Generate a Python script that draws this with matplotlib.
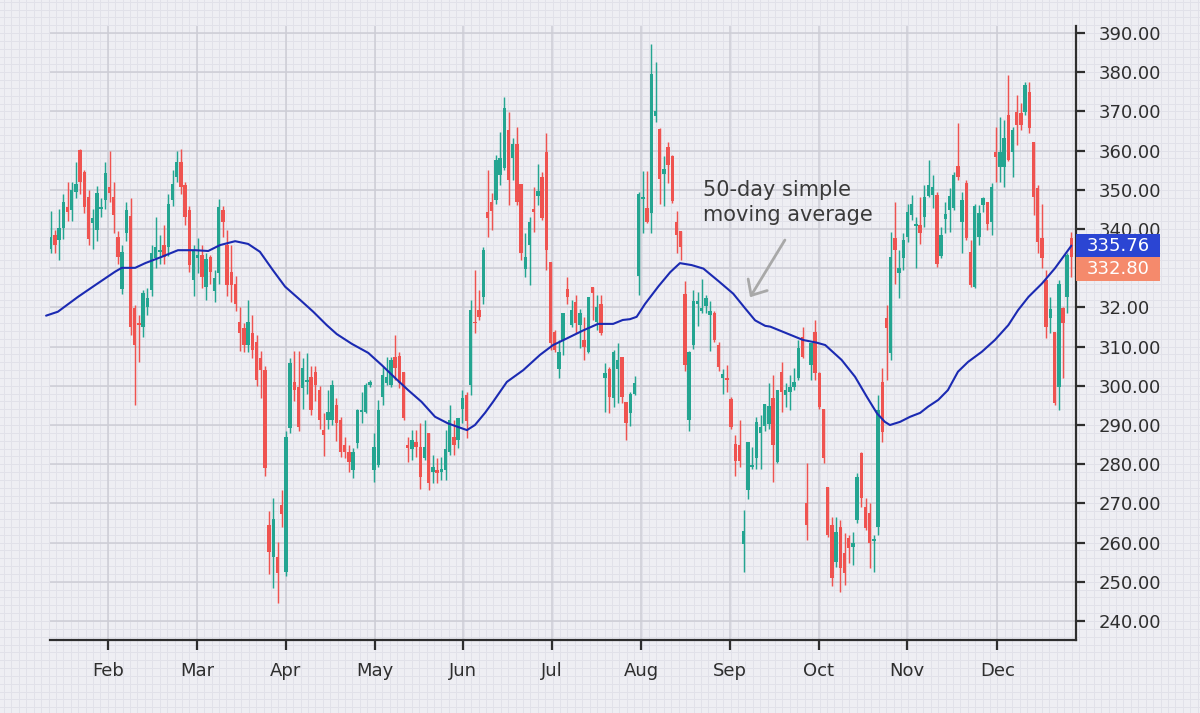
import matplotlib
matplotlib.use("Agg")
import matplotlib.pyplot as plt
import numpy as np
from matplotlib.patches import Rectangle
from matplotlib.ticker import MultipleLocator, FixedLocator

plt.rcParams['font.family'] = ['DejaVu Sans']

# ---------------- data ----------------
opens = [
    334.9, 338.5, 337.2, 340.2, 345.7, 344.8, 349.5, 360.1, 354.6, 348.2,
    341.6, 339.7, 345.0, 347.4, 350.8, 348.2, 338.0, 324.8, 338.9, 343.3,
    319.8, 316.1, 315.1, 320.2, 324.4, 332.5, 334.1, 335.9, 335.5, 347.4,
    353.3, 357.2, 351.2, 344.8, 327.0, 332.5, 333.5, 325.3, 332.8, 324.3,
    328.7, 344.8, 335.9, 329.1, 326.1, 316.4, 314.7, 310.4, 313.4, 311.3,
    307.0, 304.0, 264.5, 256.4, 256.2, 269.6, 252.6, 289.2, 301.1, 299.8,
    299.4, 301.1, 302.3, 303.6, 298.9, 288.7, 291.3, 291.3, 295.1, 291.3,
    284.9, 283.2, 278.5, 285.3, 293.4, 293.4, 300.2, 278.5, 279.8, 297.2,
    300.6, 300.2, 307.4, 307.6, 303.4, 284.9, 283.8, 285.7, 284.5, 281.5,
    287.9, 278.1, 278.5, 278.1, 278.5, 283.2, 287.0, 286.2, 294.2, 297.6,
    300.2, 316.4, 319.3, 322.7, 344.4, 346.9, 347.4, 353.8, 355.5, 365.2,
    358.0, 361.8, 351.6, 329.9, 335.9, 345.0, 348.4, 353.3, 359.7, 331.7,
    313.8, 304.4, 311.7, 324.6, 315.5, 321.5, 315.5, 311.7, 308.7, 325.3,
    316.3, 321.0, 301.9, 304.4, 296.8, 304.4, 307.4, 295.9, 293.0, 298.0,
    328.1, 347.7, 345.4, 344.0, 368.9, 365.4, 354.0, 360.9, 358.6, 341.7,
    339.5, 323.5, 291.2, 310.3, 320.8, 319.0, 320.3, 318.1, 318.5, 310.3,
    302.1, 302.1, 296.6, 285.2, 284.8, 259.7, 273.4, 279.3, 281.6, 288.0,
    289.8, 290.3, 296.8, 280.6, 303.4, 297.6, 298.5, 299.8, 301.9, 312.5,
    270.2, 305.3, 313.8, 303.2, 294.0, 274.3, 264.5, 255.1, 264.1, 257.3,
    261.1, 259.0, 265.8, 282.8, 269.2, 267.5, 260.5, 264.1, 301.1, 317.2,
    308.3, 337.6, 328.7, 332.5, 338.0, 343.6, 340.8, 341.0, 343.1, 348.4,
    348.7, 348.7, 333.0, 342.5, 344.8, 345.3, 356.1, 341.9, 351.7, 334.2,
    325.3, 338.0, 346.1, 347.0, 341.9, 359.7, 355.9, 355.9, 369.1, 359.7,
    369.9, 369.5, 369.9, 375.0, 362.3, 350.4, 337.6, 327.0, 317.2, 313.8,
    299.8, 319.8, 322.7, 337.6,
]
highs = [
    344.7, 339.7, 345.0, 349.0, 352.0, 352.0, 357.0, 360.3, 355.0, 350.0,
    345.0, 351.0, 348.0, 357.0, 360.0, 352.0, 339.5, 336.0, 347.0, 348.0,
    320.5, 318.0, 324.5, 325.0, 336.0, 343.0, 338.5, 341.0, 349.0, 355.0,
    360.0, 360.3, 352.0, 346.0, 336.0, 337.6, 336.0, 334.0, 333.5, 329.6,
    347.6, 346.0, 339.7, 336.0, 328.0, 320.0, 316.0, 322.0, 318.0, 313.0,
    309.0, 305.0, 268.0, 271.5, 260.2, 273.5, 288.5, 307.0, 309.0, 309.0,
    307.0, 308.3, 305.0, 305.0, 300.0, 293.0, 299.0, 301.5, 297.0, 292.1,
    287.0, 284.9, 284.1, 294.2, 298.5, 300.6, 301.5, 287.9, 296.4, 304.9,
    307.4, 307.4, 312.9, 308.7, 303.6, 287.0, 288.7, 288.7, 290.4, 291.3,
    287.9, 282.3, 281.5, 281.9, 288.7, 295.1, 291.3, 291.7, 298.9, 298.5,
    321.9, 329.5, 324.4, 335.5, 355.0, 349.1, 358.9, 364.8, 373.7, 369.9,
    363.1, 366.1, 351.6, 338.9, 343.1, 350.8, 356.7, 354.6, 364.4, 331.7,
    314.2, 311.7, 318.5, 327.8, 321.9, 323.2, 319.5, 317.6, 322.7, 325.3,
    323.2, 323.2, 305.7, 304.9, 309.1, 310.8, 307.4, 295.9, 298.5, 302.6,
    349.5, 354.9, 354.9, 387.3, 382.7, 365.9, 358.6, 362.2, 359.0, 344.5,
    339.5, 326.7, 308.9, 324.4, 324.0, 327.2, 323.1, 321.7, 319.0, 311.2,
    304.4, 305.3, 297.1, 287.5, 291.2, 268.4, 285.7, 284.3, 292.1, 292.5,
    295.3, 300.7, 302.8, 298.9, 306.1, 300.6, 302.8, 304.5, 311.7, 315.1,
    280.2, 310.8, 316.8, 303.6, 294.0, 274.3, 266.6, 266.6, 265.8, 262.4,
    261.9, 262.8, 277.7, 283.2, 271.3, 270.0, 261.9, 297.7, 304.5, 320.6,
    339.3, 347.0, 334.6, 338.9, 346.5, 348.7, 343.1, 348.3, 351.2, 357.6,
    353.8, 349.5, 340.6, 347.0, 350.4, 354.6, 367.0, 349.5, 352.5, 337.2,
    346.5, 346.1, 348.3, 347.0, 351.7, 366.1, 368.7, 367.8, 379.3, 366.1,
    374.2, 372.1, 377.6, 377.6, 362.3, 351.2, 346.5, 329.5, 322.7, 313.8,
    327.0, 320.2, 333.8, 339.3,
]
lows = [
    333.8, 333.8, 332.0, 337.5, 342.0, 342.0, 348.0, 349.0, 344.0, 336.0,
    335.0, 337.0, 343.0, 345.0, 347.0, 339.0, 331.0, 323.5, 337.0, 313.0,
    295.0, 306.0, 312.5, 318.0, 323.0, 330.0, 331.0, 331.0, 333.0, 346.0,
    352.0, 349.0, 341.0, 329.0, 323.0, 328.7, 325.0, 322.0, 326.0, 321.5,
    326.0, 338.0, 323.0, 321.5, 319.0, 309.0, 308.5, 308.5, 307.0, 300.0,
    297.0, 277.0, 252.0, 248.5, 244.5, 264.0, 251.5, 288.0, 296.0, 288.5,
    294.0, 298.0, 292.5, 296.0, 289.0, 282.0, 289.0, 290.0, 286.0, 281.9,
    281.5, 278.1, 276.4, 284.1, 290.4, 293.0, 299.8, 275.5, 279.4, 295.1,
    300.2, 299.8, 301.5, 299.4, 291.3, 280.6, 281.1, 281.9, 273.8, 281.1,
    273.4, 275.1, 275.1, 276.0, 276.0, 282.3, 282.3, 284.1, 290.4, 286.6,
    297.6, 313.4, 316.8, 321.0, 338.0, 339.7, 346.5, 351.2, 355.0, 346.1,
    352.5, 346.1, 332.1, 327.8, 325.7, 339.3, 346.1, 342.3, 329.5, 309.1,
    308.7, 301.9, 307.8, 321.0, 315.1, 313.4, 309.6, 306.6, 308.3, 316.8,
    314.2, 312.9, 293.4, 293.0, 294.7, 295.5, 295.5, 286.2, 289.8, 297.6,
    323.1, 339.0, 341.6, 339.0, 367.2, 346.3, 345.8, 351.8, 346.7, 334.0,
    332.2, 303.9, 288.5, 309.4, 315.3, 318.5, 318.5, 308.9, 311.2, 303.9,
    298.0, 298.5, 288.9, 277.1, 279.3, 252.5, 271.1, 278.9, 278.9, 278.9,
    288.5, 288.9, 275.5, 280.2, 293.4, 294.7, 293.8, 298.9, 301.5, 307.0,
    260.7, 301.5, 301.5, 294.2, 280.2, 261.5, 248.8, 253.9, 247.5, 249.2,
    254.7, 254.3, 264.9, 269.2, 263.2, 253.4, 252.6, 261.9, 285.7, 301.5,
    306.6, 326.1, 322.3, 329.5, 336.8, 342.3, 330.0, 336.3, 340.6, 348.3,
    345.3, 330.4, 332.5, 338.9, 339.3, 344.8, 352.5, 333.8, 337.2, 325.3,
    324.9, 335.9, 344.4, 339.7, 338.5, 352.1, 352.1, 350.8, 357.4, 353.4,
    361.4, 365.3, 369.1, 364.4, 343.6, 333.8, 330.0, 312.1, 313.4, 295.1,
    293.8, 301.9, 318.5, 327.8,
]
closes = [
    338.0, 335.9, 340.2, 347.0, 344.4, 349.9, 351.6, 352.1, 345.7, 337.4,
    342.7, 349.1, 345.7, 354.2, 349.1, 343.6, 332.9, 334.2, 344.8, 315.1,
    310.4, 315.4, 323.6, 322.3, 333.8, 335.5, 334.6, 332.9, 346.5, 351.6,
    357.2, 350.8, 343.1, 330.8, 334.6, 333.5, 327.8, 332.3, 329.1, 327.4,
    345.7, 341.9, 325.7, 325.7, 321.0, 313.4, 310.4, 316.4, 309.1, 301.5,
    304.0, 279.0, 257.7, 265.9, 252.3, 267.3, 287.0, 305.7, 298.9, 289.6,
    304.5, 301.5, 293.8, 300.2, 291.3, 287.5, 293.4, 300.2, 290.5, 283.2,
    283.2, 280.6, 283.2, 293.8, 293.8, 300.2, 301.1, 284.5, 293.8, 302.8,
    302.3, 306.6, 304.5, 300.6, 291.7, 284.1, 286.3, 284.5, 276.8, 284.5,
    275.1, 279.4, 277.8, 278.9, 283.8, 291.3, 284.9, 291.7, 296.8, 290.9,
    319.3, 315.9, 317.6, 334.6, 342.7, 344.7, 357.6, 358.0, 370.8, 352.5,
    361.8, 347.0, 333.8, 332.9, 341.9, 344.4, 349.8, 342.7, 334.6, 310.8,
    309.1, 308.7, 318.5, 322.7, 319.3, 315.9, 318.7, 310.0, 322.7, 323.6,
    320.2, 313.4, 303.2, 297.2, 308.7, 306.6, 297.2, 290.4, 298.0, 300.7,
    349.0, 348.1, 341.7, 379.6, 370.2, 352.7, 355.4, 356.3, 347.2, 338.6,
    335.4, 305.3, 308.5, 321.7, 321.7, 319.9, 322.4, 319.2, 311.7, 304.8,
    303.0, 301.6, 289.4, 280.7, 280.7, 262.9, 285.7, 279.8, 290.7, 289.4,
    295.3, 294.8, 284.9, 298.9, 298.5, 298.9, 299.8, 301.1, 309.6, 307.4,
    264.5, 310.8, 303.2, 294.7, 281.5, 262.0, 250.9, 262.8, 253.4, 252.2,
    258.5, 259.8, 276.8, 271.3, 263.6, 259.8, 260.8, 293.8, 288.3, 314.7,
    332.9, 334.6, 330.0, 337.2, 344.4, 346.5, 341.0, 338.9, 348.3, 351.2,
    350.6, 331.2, 338.5, 343.8, 348.4, 353.8, 353.4, 347.4, 337.6, 325.7,
    345.9, 344.0, 347.8, 341.4, 350.8, 358.3, 359.7, 363.1, 357.6, 365.3,
    366.5, 366.5, 376.7, 365.7, 348.3, 336.8, 332.5, 315.1, 319.5, 295.5,
    326.1, 316.0, 333.4, 332.8,
]

# 50-day simple moving average (candle index, value)
ma_idx = [-1.1, 1.7, 6.5, 10.6, 15.3, 16.9, 20.1, 22.5, 26.4, 30.3,
          34.4, 37.5, 40.3, 43.9, 47.0, 49.8, 52.9, 55.8, 59.4, 62.5,
          65.7, 68.1, 71.7, 75.6, 78.8, 82.0, 85.1, 88.3, 91.5, 94.6,
          99.1, 101.0, 103.4, 105.3, 108.6, 112.5, 116.5, 119.6, 122.9, 126.7,
          130.3, 133.9, 136.2, 137.9, 139.5, 141.5, 144.7, 147.5, 149.8, 152.6,
          155.4, 159.0, 162.5, 165.3, 167.7, 170.1, 171.3, 175.2, 179.1, 182.4,
          184.4, 188.3, 191.5, 194.3, 196.7, 198.6, 199.8, 202.2, 204.6, 207.0,
          208.9, 211.3, 213.6, 216.0, 218.4, 221.7, 224.8, 228.0, 230.3, 232.8,
          236.0, 239.1, 243.0]
ma_val = [317.9, 318.9, 322.7, 325.7, 329.1, 330.1, 330.1, 331.3, 332.9, 334.6,
          334.6, 334.4, 335.9, 336.9, 336.2, 334.2, 329.5, 325.3, 321.9, 318.9,
          315.5, 313.2, 310.7, 308.4, 305.3, 302.0, 298.9, 295.9, 292.1, 290.4,
          288.7, 290.0, 293.1, 295.9, 301.0, 304.0, 307.9, 310.4, 312.1, 314.1,
          315.8, 315.8, 316.8, 317.0, 317.6, 320.9, 325.4, 329.0, 331.3, 330.8,
          329.9, 326.7, 323.5, 319.8, 316.7, 315.3, 315.1, 313.4, 311.7, 311.0,
          310.4, 306.6, 302.3, 297.2, 293.0, 290.8, 290.0, 290.8, 292.1, 293.1,
          294.7, 296.4, 298.9, 303.6, 306.1, 308.7, 311.7, 315.5, 319.3, 322.7,
          326.1, 330.0, 335.76]

month_labels = ['Feb', 'Mar', 'Apr', 'May', 'Jun', 'Jul', 'Aug', 'Sep', 'Oct', 'Nov', 'Dec']
month_pos = [13.6, 34.8, 56.0, 77.1, 98.2, 119.4, 140.6, 161.8, 182.9, 203.9, 225.4]
y_ticks = [240, 250, 260, 270, 280, 290, 300, 310, 320, 330, 340, 350, 360, 370, 380, 390]
# the 330.00 label is fully hidden behind the price tags in the reference
y_labels = ['240.00', '250.00', '260.00', '270.00', '280.00', '290.00', '300.00', '310.00',
            '32.00', '', '340.00', '350.00', '360.00', '370.00', '380.00', '390.00']
last_ma = 335.76
last_close = 332.80
annotation_text = "50-day simple\nmoving average"

# ---------------- styling ----------------
BG = '#EEEEF3'
MINOR = '#E1E1E9'
MAJOR = '#CDCDD5'
GREEN = '#24A591'
RED = '#EF5350'
MA_COL = '#1B2AB2'
TXT = '#2E2E2E'

fig = plt.figure(figsize=(12, 7.13), dpi=100)
fig.patch.set_facecolor(BG)

ax_rect = [50 / 1200, (713 - 640) / 713, 1026 / 1200, 614 / 713]
xlim = (-0.17, 244.1)
ylim = (235.15, 391.8)

# background "graph paper" covering the whole figure, aligned with the chart scales
bg = fig.add_axes([0, 0, 1, 1], zorder=0)
bg.set_facecolor(BG)
xspan = (xlim[1] - xlim[0]) / ax_rect[2]
yspan = (ylim[1] - ylim[0]) / ax_rect[3]
bx0 = xlim[0] - ax_rect[0] * xspan
by0 = ylim[0] - ax_rect[1] * yspan
bg.set_xlim(bx0, bx0 + xspan)
bg.set_ylim(by0, by0 + yspan)
step = (month_pos[-1] - month_pos[0]) / (len(month_pos) - 1) / 12
bg.xaxis.set_major_locator(MultipleLocator(step, offset=month_pos[0] % step))
bg.yaxis.set_major_locator(MultipleLocator(2))
bg.grid(True, color=MINOR, lw=0.7)
bg.tick_params(length=0, labelbottom=False, labelleft=False)
for s in bg.spines.values():
    s.set_visible(False)

ax = fig.add_axes(ax_rect, zorder=1)
ax.patch.set_alpha(0)
ax.set_xlim(*xlim)
ax.set_ylim(*ylim)

idx = np.arange(len(closes))
o = np.array(opens); c = np.array(closes); h = np.array(highs); l = np.array(lows)
up = c >= o
cols = np.where(up, GREEN, RED)
body_bottom = np.minimum(o, c)
body_h = np.maximum(np.abs(c - o), 0.45)

ax.vlines(idx, l, h, colors=cols, lw=1.05, zorder=3)
ax.bar(idx, body_h, bottom=body_bottom, width=0.82, color=cols, zorder=3, linewidth=0)

ax.plot(ma_idx, ma_val, color=MA_COL, lw=1.5, zorder=4, clip_on=False,
        solid_capstyle='round', solid_joinstyle='round')

# axes / ticks
ax.xaxis.set_major_locator(FixedLocator(month_pos))
ax.set_xticklabels(month_labels)
ax.yaxis.tick_right()
ax.set_yticks(y_ticks)
ax.set_yticklabels(y_labels)
ax.grid(True, color=MAJOR, lw=1.1, zorder=0)
ax.set_axisbelow(True)
for side in ('left', 'top'):
    ax.spines[side].set_visible(False)
for side in ('bottom', 'right'):
    ax.spines[side].set_color(TXT)
    ax.spines[side].set_linewidth(1.6)
ax.tick_params(axis='x', length=7.5, width=1.6, color=TXT, pad=8.5,
               labelsize=13, labelcolor=TXT)
ax.tick_params(axis='y', length=6.5, width=1.6, color=TXT, pad=9.5,
               labelsize=13, labelcolor=TXT, right=True, left=False)

# price tags on the right axis
ytr = ax.get_yaxis_transform()
box_w = 84 / 1026
box_h = 6.0
ax.add_patch(Rectangle((1.0, last_ma - box_h / 2), box_w, box_h, transform=ytr,
                       facecolor='#2B45D3', edgecolor='none', clip_on=False, zorder=6))
ax.text(1.0 + box_w / 2, last_ma, f"{last_ma:.2f}", transform=ytr, ha='center',
        va='center', color='white', fontsize=13, zorder=7, clip_on=False)
ax.add_patch(Rectangle((1.0, last_ma - box_h / 2 - box_h), box_w, box_h, transform=ytr,
                       facecolor='#F58A6C', edgecolor='none', clip_on=False, zorder=6))
ax.text(1.0 + box_w / 2, last_ma - box_h, f"{last_close:.2f}", transform=ytr,
        ha='center', va='center', color='white', fontsize=13, zorder=7, clip_on=False)

# annotation
ax.text(155.3, 352.4, annotation_text, ha='left', va='top', fontsize=15,
        color='#3A3A3A', linespacing=1.28, zorder=5)
ax.annotate('', xy=(166.5, 322.6), xytext=(174.8, 337.2),
            arrowprops=dict(arrowstyle='->,head_length=0.45,head_width=0.4',
                            color='#A8A8A8', lw=2.0, mutation_scale=20,
                            shrinkA=0, shrinkB=0), zorder=5)

fig.savefig('out.png', dpi=100, facecolor=BG)
